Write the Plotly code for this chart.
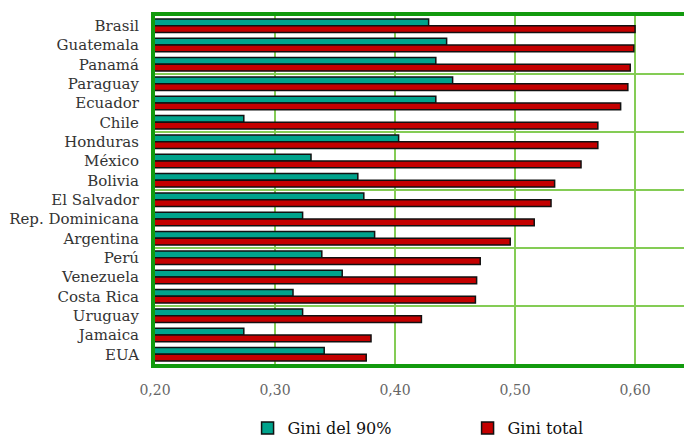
import plotly.graph_objects as go

# Countries, top to bottom
countries = [
    "Brasil", "Guatemala", "Panamá", "Paraguay", "Ecuador", "Chile",
    "Honduras", "México", "Bolivia", "El Salvador", "Rep. Dominicana",
    "Argentina", "Perú", "Venezuela", "Costa Rica", "Uruguay", "Jamaica", "EUA",
]

# Gini coefficient of the poorest 90% of households
gini_90 = [0.428, 0.443, 0.434, 0.448, 0.434, 0.274, 0.403, 0.330, 0.369,
           0.374, 0.323, 0.383, 0.339, 0.356, 0.315, 0.323, 0.274, 0.341]

# Gini coefficient of all households
gini_total = [0.600, 0.599, 0.596, 0.594, 0.588, 0.569, 0.569, 0.555, 0.533,
              0.530, 0.516, 0.496, 0.471, 0.468, 0.467, 0.422, 0.380, 0.376]

x_ticks = [0.20, 0.30, 0.40, 0.50, 0.60]

TEAL = "#00A38C"
RED = "#C40000"
FRAME = "#129A0E"
GRID = "#84CC55"
SERIF = "DejaVu Serif"

positions = list(range(len(countries)))

fig = go.Figure()
fig.add_trace(go.Bar(
    y=positions, x=gini_90, base=0, orientation="h", name="Gini del 90%",
    marker=dict(color=TEAL, line=dict(color="#111111", width=1.5)),
))
fig.add_trace(go.Bar(
    y=positions, x=gini_total, base=0, orientation="h", name="Gini total",
    marker=dict(color=RED, line=dict(color="#111111", width=1.5)),
))

fig.update_layout(
    width=684, height=441,
    margin=dict(l=155, r=0, t=16, b=77, autoexpand=False),
    paper_bgcolor="white", plot_bgcolor="white",
    barmode="group", bargap=0.3, bargroupgap=0.0,
    separators=",.",
    font=dict(family=SERIF, color="#333333"),
    showlegend=True,
    legend=dict(
        orientation="h", x=0.175, xanchor="left", y=-0.135, yanchor="top",
        font=dict(family=SERIF, size=16, color="#111111"),
        entrywidth=175, entrywidthmode="pixels",
        itemclick=False, tracegroupgap=0,
    ),
)

fig.update_xaxes(
    range=[0.2, 0.6408],
    tickvals=x_ticks, tickformat=".2f",
    showgrid=True, gridcolor=GRID, gridwidth=2,
    zeroline=False,
    showline=True, linecolor=FRAME, linewidth=4, mirror=True,
    ticks="", ticklabelstandoff=10,
    tickfont=dict(family=SERIF, size=14, color="#666666"),
)

fig.update_yaxes(
    range=[17.5, -0.5],
    tickvals=positions, ticktext=countries,
    showgrid=False, zeroline=False,
    showline=True, linecolor=FRAME, linewidth=4,
    ticks="", ticklabelstandoff=9,
    tickfont=dict(family=SERIF, size=15, color="#333333"),
    minor=dict(tick0=2.5, dtick=3, showgrid=True, gridcolor=GRID, gridwidth=2, ticks=""),
)

fig.write_html("out.html")
